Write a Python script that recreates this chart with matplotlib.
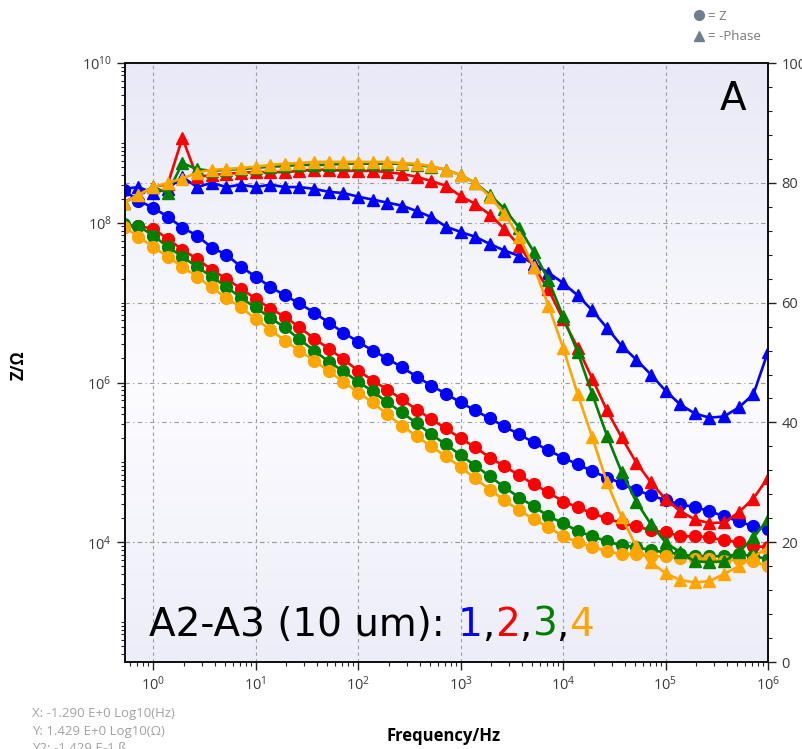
import matplotlib
import matplotlib.pyplot as plt
import numpy as np
from matplotlib.colors import LinearSegmentedColormap
from matplotlib.lines import Line2D
from matplotlib.offsetbox import AnchoredOffsetbox, HPacker, TextArea
from matplotlib.ticker import FixedLocator, LogLocator, MultipleLocator, NullFormatter

matplotlib.use("Agg")
plt.rcParams["font.family"] = ["Open Sans", "DejaVu Sans"]

# frequencies, 7 points per decade
freq_hz = [0.518, 0.72, 1.0, 1.39, 1.93, 2.68, 3.73, 5.18, 7.2,
           10, 13.9, 19.3, 26.8, 37.3, 51.8, 72,
           100, 139, 193, 268, 373, 518, 720,
           1e3, 1.39e3, 1.93e3, 2.68e3, 3.73e3, 5.18e3, 7.2e3,
           1e4, 1.39e4, 1.93e4, 2.68e4, 3.73e4, 5.18e4, 7.2e4,
           1e5, 1.39e5, 1.93e5, 2.68e5, 3.73e5, 5.18e5, 7.2e5, 1e6]

# log10(|Z| / ohm) for samples 1..4
z1_log = [8.41, 8.275, 8.19, 8.075, 7.94, 7.84, 7.69, 7.6, 7.45, 7.325, 7.2, 7.09, 6.99, 6.875, 6.75,
          6.625, 6.51, 6.4, 6.3, 6.19, 6.075, 5.96, 5.86, 5.75, 5.65, 5.55, 5.45, 5.35, 5.25, 5.15,
          5.06, 4.975, 4.89, 4.81, 4.74, 4.65, 4.59, 4.525, 4.475, 4.44, 4.39, 4.325, 4.26, 4.2, 4.16]
z2_log = [7.95, 7.96, 7.925, 7.8, 7.66, 7.55, 7.41, 7.3, 7.175, 7.05, 6.925, 6.825, 6.69, 6.55, 6.425,
          6.29, 6.15, 6.025, 5.91, 5.79, 5.66, 5.54, 5.425, 5.3, 5.19, 5.06, 4.95, 4.84, 4.725, 4.625,
          4.51, 4.44, 4.36, 4.3, 4.24, 4.2, 4.15, 4.125, 4.075, 4.075, 4.06, 4.025, 4.0, 3.95, 3.94]
z3_log = [7.98, 7.96, 7.84, 7.7, 7.575, 7.45, 7.325, 7.2, 7.06, 6.94, 6.81, 6.69, 6.54, 6.4, 6.26,
          6.14, 6.01, 5.89, 5.75, 5.625, 5.49, 5.35, 5.225, 5.09, 4.96, 4.825, 4.69, 4.56, 4.45, 4.325,
          4.24, 4.14, 4.075, 4.01, 3.96, 3.94, 3.9, 3.875, 3.85, 3.825, 3.825, 3.825, 3.85, 3.825, 3.79]
z4_log = [7.95, 7.825, 7.7, 7.575, 7.45, 7.325, 7.19, 7.06, 6.94, 6.8, 6.66, 6.525, 6.4, 6.275, 6.14,
          6.01, 5.875, 5.75, 5.6, 5.46, 5.325, 5.2, 5.075, 4.94, 4.8, 4.66, 4.525, 4.4, 4.29, 4.19,
          4.075, 4.0, 3.94, 3.89, 3.85, 3.85, 3.825, 3.825, 3.8, 3.79, 3.79, 3.76, 3.79, 3.76, 3.7]

# -phase in degrees for samples 1..4
phase1 = [79.0, 79.3, 78.3, 79.0, 81.0, 79.3, 80.0, 79.3, 79.7, 79.3, 79.7, 79.3, 79.3, 79.0, 78.5,
          78.3, 77.7, 77.2, 76.7, 76.2, 75.3, 74.3, 72.7, 71.8, 71.0, 69.8, 68.7, 67.8, 66.5, 65.0,
          63.3, 61.2, 58.7, 55.8, 52.8, 50.5, 48.0, 45.3, 43.0, 41.5, 40.8, 41.0, 42.5, 44.7, 51.8]
phase2 = [76.7, 78.0, 79.3, 79.8, 87.5, 81.0, 81.3, 81.5, 81.7, 81.8, 81.8, 81.8, 82.0, 82.2, 82.2,
          82.0, 82.0, 82.0, 81.8, 81.5, 81.0, 80.3, 79.5, 77.8, 76.5, 74.7, 72.3, 69.5, 66.0, 62.2,
          57.2, 52.5, 47.3, 42.0, 37.5, 33.3, 30.0, 27.2, 25.2, 23.8, 23.2, 23.3, 25.0, 27.3, 30.8]
phase3 = [76.7, 78.0, 79.3, 78.3, 83.3, 82.3, 82.0, 82.2, 82.3, 82.5, 82.7, 82.8, 83.0, 83.0, 83.0,
          83.2, 83.2, 83.2, 83.2, 83.2, 83.0, 82.7, 82.2, 81.3, 80.0, 78.0, 75.7, 72.5, 68.5, 63.8,
          57.7, 51.7, 44.7, 37.8, 31.7, 26.8, 23.0, 20.0, 18.3, 16.8, 16.7, 16.8, 18.3, 20.8, 23.8]
phase4 = [76.7, 78.0, 79.3, 80.0, 80.7, 81.7, 82.2, 82.3, 82.5, 82.7, 83.0, 83.2, 83.3, 83.5, 83.5,
          83.5, 83.5, 83.5, 83.5, 83.3, 83.2, 82.8, 82.2, 81.3, 80.0, 77.7, 74.8, 71.0, 66.0, 59.5,
          52.5, 44.7, 37.5, 30.0, 24.2, 19.3, 16.7, 14.8, 13.7, 13.3, 13.5, 14.7, 16.0, 17.5, 19.2]

sample_labels = ["1", "2", "3", "4"]
sample_colors = ["#0000ff", "#ff0000", "#008000", "#ffa500"]

freq_ticks = [1e0, 1e1, 1e2, 1e3, 1e4, 1e5, 1e6]
z_ticks = [1e4, 1e6, 1e8, 1e10]
phase_ticks = [0, 20, 40, 60, 80, 100]

GRID_COLOR = "#9c9c9c"
TICK_COLOR = "#3a3a3a"
BIG_FONT = dict(family="DejaVu Sans", fontsize=28)


def _background(fig, pos):
    bg = fig.add_axes(pos, zorder=0)
    cmap = LinearSegmentedColormap.from_list(
        "bg", [(0.0, "#ededf9"), (0.45, "#fcfcff"), (1.0, "#e9e9f7")])
    grad = np.linspace(0, 1, 256).reshape(-1, 1)
    bg.imshow(grad, cmap=cmap, aspect="auto", extent=[0, 1, 0, 1], origin="lower")
    bg.set_axis_off()


def _setup_axes(ax, ax2):
    ax.set_xscale("log")
    ax.set_yscale("log")
    ax.set_xlim(10 ** -0.274, 1e6)
    ax.set_ylim(10 ** 2.5, 1e10)
    ax2.set_ylim(0, 100)

    ax.xaxis.set_major_locator(FixedLocator(freq_ticks))
    ax.xaxis.set_minor_locator(LogLocator(base=10, subs=np.arange(2, 10), numticks=20))
    ax.xaxis.set_minor_formatter(NullFormatter())
    ax.yaxis.set_major_locator(FixedLocator(z_ticks))
    ax.yaxis.set_minor_locator(LogLocator(base=10, subs=np.arange(1, 10), numticks=20))
    ax.yaxis.set_minor_formatter(NullFormatter())
    ax2.yaxis.set_major_locator(FixedLocator(phase_ticks))
    ax2.yaxis.set_minor_locator(MultipleLocator(4))

    for a in (ax, ax2):
        a.tick_params(which="major", length=6, width=1, color="#222222",
                      labelcolor=TICK_COLOR, labelsize=10.5)
        a.tick_params(which="minor", length=3, width=0.8, color="#222222")
        for sp in a.spines.values():
            sp.set_color("#111111")
            sp.set_linewidth(1.3)

    # grid: decades on x, Z majors and phase majors on y
    ax.xaxis.grid(True, which="major", color=GRID_COLOR, lw=0.8, ls=(0, (3, 3)))
    ax.yaxis.grid(True, which="major", color=GRID_COLOR, lw=0.8, ls=(0, (4, 3, 1, 3)))
    to_ax = ax.transData.inverted()
    for p in phase_ticks[1:-1]:
        y = to_ax.transform(ax2.transData.transform((1, p)))[1]
        ax.axhline(y, color=GRID_COLOR, lw=0.8, ls=(0, (4, 3, 1, 3)), zorder=0.5)
    ax.set_axisbelow(True)


def _caption(ax):
    parts = [TextArea("A2-A3 (10 um): ", textprops=dict(color="black", **BIG_FONT))]
    for i, (lab, col) in enumerate(zip(sample_labels, sample_colors)):
        if i:
            parts.append(TextArea(",", textprops=dict(color="black", **BIG_FONT)))
        parts.append(TextArea(lab, textprops=dict(color=col, **BIG_FONT)))
    box = HPacker(children=parts, align="baseline", pad=0, sep=0)
    anchored = AnchoredOffsetbox(loc="center left", child=box, pad=0, borderpad=0, frameon=False,
                                 bbox_to_anchor=(0.038, 0.062), bbox_transform=ax.transAxes)
    ax.add_artist(anchored)


def main():
    fig = plt.figure(figsize=(8.02, 7.49), dpi=100)
    pos = [0.1559, 0.1161, 0.8017, 0.7997]
    _background(fig, pos)

    ax = fig.add_axes(pos, zorder=1)
    ax.set_facecolor("none")
    ax2 = ax.twinx()
    ax2.set_zorder(2)
    ax2.patch.set_visible(False)

    z_series = [z1_log, z2_log, z3_log, z4_log]
    phase_series = [phase1, phase2, phase3, phase4]
    for z_log, col in zip(z_series, sample_colors):
        ax.plot(freq_hz, 10 ** np.array(z_log), "-o", color=col, lw=1.9, ms=8.5, mec=col)
    for ph, col in zip(phase_series, sample_colors):
        ax2.plot(freq_hz, ph, "-^", color=col, lw=1.9, ms=8.5, mec=col)

    _setup_axes(ax, ax2)

    ax.set_xlabel("Frequency/Hz", fontsize=12, fontweight="bold")
    ax.xaxis.set_label_coords(0.495, -0.108)
    ax.set_ylabel("Z/Ω", fontsize=12, fontweight="bold")
    ax.yaxis.set_label_coords(-0.152, 0.496)

    ax.text(0.966, 0.972, "A", transform=ax.transAxes, ha="right", va="top", **BIG_FONT)
    _caption(ax)

    handles = [Line2D([], [], marker="o", ls="none", color="#6f7f8f", ms=7),
               Line2D([], [], marker="^", ls="none", color="#6f7f8f", ms=7)]
    fig.legend(handles, ["= Z", "= -Phase"], loc="upper left", bbox_to_anchor=(0.853, 0.999),
               frameon=False, fontsize=9.5, labelcolor="#7a7a7a", handlelength=0.8,
               handletextpad=0.3, labelspacing=0.55, borderpad=0.2)

    readout = ["X: -1.290 E+0 Log10(Hz)", "Y: 1.429 E+0 Log10(Ω)", "Y2: -1.429 E-1 ß"]
    for i, line in enumerate(readout):
        fig.text(0.04, 1 - (713 + 18 * i) / 749, line, va="center", fontsize=9.5, color="#a2a2a2")

    fig.savefig("out.png", dpi=100)
    plt.close(fig)


if __name__ == "__main__":
    main()
